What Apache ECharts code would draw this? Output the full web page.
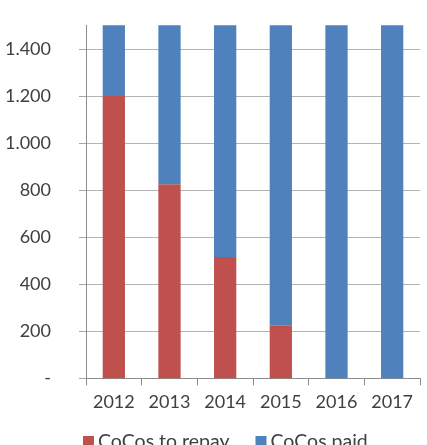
<!DOCTYPE html>
<html>
<head>
<meta charset="utf-8">
<script src="https://cdn.jsdelivr.net/npm/echarts@6/dist/echarts.min.js"></script>
<style>
html,body{margin:0;padding:0;background:#fff;}
#chart{width:427px;height:445px;}
</style>
</head>
<body>
<div id="chart"></div>
<script>
var categories = ['2012', '2013', '2014', '2015', '2016', '2017'];
var cocosToRepay = [1200, 825, 515, 225, 0, 0];
var cocosPaid = [300, 675, 985, 1275, 1500, 1500];
var yTicks = [0, 200, 400, 600, 800, 1000, 1200, 1400];
var seriesNames = ['CoCos to repay', 'CoCos paid'];

var FONT = 'Lato';
var TXT = '#404040';

function fmt(v) {
  if (v === 0) return '-';
  var s = String(v);
  return s.replace(/\B(?=(\d{3})+(?!\d))/g, '.');
}

var chart = echarts.init(document.getElementById('chart'), null, {renderer: 'canvas'});
chart.setOption({
  animation: false,
  textStyle: {fontFamily: FONT},
  grid: {left: 86, right: 7, top: 25.3, bottom: 66.7, containLabel: false},
  legend: {
    left: 78, top: 426.5,
    itemWidth: 11, itemHeight: 11, itemGap: 26,
    icon: 'rect',
    textStyle: {fontFamily: FONT, fontSize: 19.5, color: TXT, padding: [0, 0, 0, -1]},
    data: seriesNames
  },
  xAxis: {
    type: 'category',
    data: categories,
    axisLine: {lineStyle: {color: '#8c8c8c', width: 1}},
    axisTick: {show: true, alignWithLabel: false, length: 7, lineStyle: {color: '#8c8c8c'}},
    axisLabel: {fontFamily: FONT, fontSize: 18, color: TXT, margin: 15}
  },
  yAxis: {
    type: 'value',
    min: 0, max: 1500, interval: 200,
    axisLine: {show: true, lineStyle: {color: '#8c8c8c', width: 1}},
    axisTick: {show: true, length: 7, customValues: yTicks, lineStyle: {color: '#a6a6a6'}},
    axisLabel: {fontFamily: FONT, fontSize: 18, color: TXT, margin: 35, customValues: yTicks, formatter: fmt},
    splitLine: {show: false}
  },
  series: [
    {
      name: seriesNames[0], type: 'bar', stack: 'total', barWidth: '40%',
      itemStyle: {color: '#C0504D'},
      data: cocosToRepay,
      markLine: {
        silent: true, symbol: 'none', label: {show: false}, z: 0,
        lineStyle: {color: '#b3b3b3', type: 'solid', width: 1},
        data: yTicks.filter(function (v) { return v > 0; }).map(function (v) { return {yAxis: v}; })
      },
      z: 2
    },
    {
      name: seriesNames[1], type: 'bar', stack: 'total', barWidth: '40%',
      itemStyle: {color: '#4F81BD'},
      data: cocosPaid,
      z: 2
    }
  ]
});
</script>
</body>
</html>
